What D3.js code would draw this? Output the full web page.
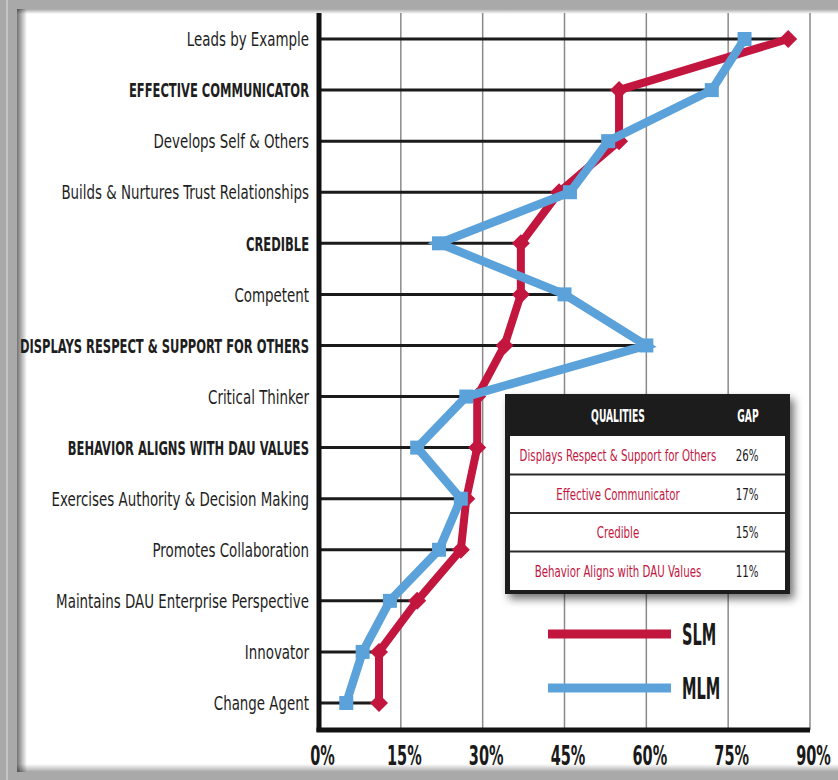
<!DOCTYPE html>
<html>
<head>
<meta charset="utf-8">
<script src="https://cdn.jsdelivr.net/npm/d3@7"></script>
<style>
  body { margin: 0; background: #a9a9a9; }
  svg { display: block; }
</style>
</head>
<body>
<svg id="chart" width="838" height="780"></svg>
<script>
// ---------- data ----------
const categories = [
  "Leads by Example",
  "EFFECTIVE COMMUNICATOR",
  "Develops Self & Others",
  "Builds & Nurtures Trust Relationships",
  "CREDIBLE",
  "Competent",
  "DISPLAYS RESPECT & SUPPORT FOR OTHERS",
  "Critical Thinker",
  "BEHAVIOR ALIGNS WITH DAU VALUES",
  "Exercises Authority & Decision Making",
  "Promotes Collaboration",
  "Maintains DAU Enterprise Perspective",
  "Innovator",
  "Change Agent"
];
const slm = [86, 55, 55, 44, 37, 37, 34, 29, 29, 27, 26, 18, 11, 11];
const mlm = [78, 72, 53, 46, 22, 45, 60, 27, 18, 26, 22, 13, 8, 5];
const xTicks = [0, 15, 30, 45, 60, 75, 90];

const tableQualities = [
  "Displays Respect & Support for Others",
  "Effective Communicator",
  "Credible",
  "Behavior Aligns with DAU Values"
];
const tableGaps = ["26%", "17%", "15%", "11%"];
const seriesNames = ["SLM", "MLM"];

// ---------- look ----------
const RED = "#c2163f", BLUE = "#5ca2da";
const FONT = "'Liberation Sans Narrow', 'DejaVu Sans Condensed', 'Liberation Sans', Arial, sans-serif";

const svg = d3.select("#chart");

// frame / panel
const defs = svg.append("defs");
const lg = defs.append("linearGradient").attr("id", "leftShade");
lg.append("stop").attr("offset", "0%").attr("stop-color", "#000").attr("stop-opacity", 0.55);
lg.append("stop").attr("offset", "100%").attr("stop-color", "#000").attr("stop-opacity", 0);
const tg = defs.append("linearGradient").attr("id", "topShade").attr("x1", 0).attr("y1", 0).attr("x2", 0).attr("y2", 1);
tg.append("stop").attr("offset", "0%").attr("stop-color", "#000").attr("stop-opacity", 0.35);
tg.append("stop").attr("offset", "100%").attr("stop-color", "#000").attr("stop-opacity", 0);
const bg = defs.append("linearGradient").attr("id", "botShade").attr("x1", 0).attr("y1", 1).attr("x2", 0).attr("y2", 0);
bg.append("stop").attr("offset", "0%").attr("stop-color", "#000").attr("stop-opacity", 0.35);
bg.append("stop").attr("offset", "100%").attr("stop-color", "#000").attr("stop-opacity", 0);
const sh = defs.append("filter").attr("id", "tblShadow").attr("x", "-10%").attr("y", "-10%").attr("width", "130%").attr("height", "130%");
sh.append("feDropShadow").attr("dx", 4).attr("dy", 5).attr("stdDeviation", 4).attr("flood-opacity", 0.55);

svg.append("rect").attr("width", 838).attr("height", 780).attr("fill", "#a9a9a9");
svg.append("rect").attr("x", 6).attr("y", 0).attr("width", 2).attr("height", 780).attr("fill", "#c4c4c4");
svg.append("rect").attr("x", 17).attr("y", 9).attr("width", 830).attr("height", 763).attr("fill", "#fff");
svg.append("rect").attr("x", 17).attr("y", 9).attr("width", 10).attr("height", 763).attr("fill", "url(#leftShade)");
svg.append("rect").attr("x", 17).attr("y", 9).attr("width", 830).attr("height", 5).attr("fill", "url(#topShade)");
svg.append("rect").attr("x", 17).attr("y", 764).attr("width", 830).attr("height", 8).attr("fill", "url(#botShade)");

// ---------- scales ----------
const x = d3.scaleLinear().domain([0, 90]).range([319, 810]);
const y = d3.scalePoint().domain(categories).range([39, 703]);
const plotTop = 13, plotBottom = 730;

// vertical grid lines
svg.append("g").selectAll("line")
  .data(xTicks.slice(1))
  .join("line")
  .attr("x1", d => x(d)).attr("x2", d => x(d))
  .attr("y1", plotTop).attr("y2", plotBottom)
  .attr("stroke", "#8a8a8a").attr("stroke-width", 1.5);

// row lines, from the axis out to the larger of the two values
svg.append("g").selectAll("line")
  .data(categories)
  .join("line")
  .attr("x1", x(0))
  .attr("x2", (d, i) => x(Math.max(slm[i], mlm[i])))
  .attr("y1", d => y(d)).attr("y2", d => y(d))
  .attr("stroke", "#1b1b1b").attr("stroke-width", 3);

// axes lines
svg.append("line").attr("x1", x(0)).attr("x2", x(0)).attr("y1", plotTop).attr("y2", plotBottom + 2)
  .attr("stroke", "#111").attr("stroke-width", 5);
svg.append("line").attr("x1", x(0) - 2.5).attr("x2", x(90)).attr("y1", plotBottom).attr("y2", plotBottom)
  .attr("stroke", "#111").attr("stroke-width", 5);

// x tick labels via d3 axis
const xAxis = d3.axisBottom(x).tickValues(xTicks).tickSize(0).tickPadding(0).tickFormat(d => d + "%");
const gx = svg.append("g").attr("transform", `translate(0,${plotBottom})`).call(xAxis);
gx.select(".domain").remove();
gx.selectAll(".tick text").remove();
gx.selectAll(".tick").append("g")
  .attr("transform", "translate(3,35) scale(0.62,1)")
  .append("text")
  .attr("text-anchor", "middle")
  .attr("font-family", FONT).attr("font-weight", 700).attr("font-size", 26)
  .attr("fill", "#1a1a1a")
  .text(d => d + "%");

// y category labels
const boldRows = new Set([1, 4, 6, 8]);
svg.append("g").selectAll("g")
  .data(categories)
  .join("g")
  .attr("transform", (d, i) => `translate(309,${y(d)}) scale(${boldRows.has(i) ? 0.64 : 0.745},1)`)
  .append("text")
  .attr("text-anchor", "end")
  .attr("dy", "0.36em")
  .attr("font-family", FONT)
  .attr("font-size", 20)
  .attr("font-weight", (d, i) => boldRows.has(i) ? 700 : 400)
  .attr("fill", "#1e1e1e")
  .text(d => d);

// ---------- series ----------
const line = d3.line().x(d => x(d.v)).y(d => y(d.c));
const slmPts = categories.map((c, i) => ({ c, v: slm[i] }));
const mlmPts = categories.map((c, i) => ({ c, v: mlm[i] }));

svg.append("path").datum(slmPts).attr("d", line)
  .attr("fill", "none").attr("stroke", RED).attr("stroke-width", 8).attr("stroke-linejoin", "miter");
svg.append("g").selectAll("path")
  .data(slmPts)
  .join("path")
  .attr("transform", d => `translate(${x(d.v)},${y(d.c)})`)
  .attr("d", "M0,-9L9,0L0,9L-9,0Z")
  .attr("fill", RED);

svg.append("path").datum(mlmPts).attr("d", line)
  .attr("fill", "none").attr("stroke", BLUE).attr("stroke-width", 8.5).attr("stroke-linejoin", "miter");
svg.append("g").selectAll("rect")
  .data(mlmPts)
  .join("rect")
  .attr("x", d => x(d.v) - 7).attr("y", d => y(d.c) - 7)
  .attr("width", 14).attr("height", 14)
  .attr("fill", BLUE);

// ---------- table ----------
const tbl = svg.append("g");
const tX = 505, tY = 394, tW = 285, tH = 200;
tbl.append("rect").attr("x", tX).attr("y", tY).attr("width", tW).attr("height", tH)
  .attr("fill", "#1c1a1b").attr("filter", "url(#tblShadow)");
const rowTop = 436, rowH = 38.5;
tbl.append("rect").attr("x", tX + 5).attr("y", rowTop).attr("width", tW - 10).attr("height", rowH * 4)
  .attr("fill", "#fff");
tbl.selectAll("line.sep")
  .data(tableQualities.slice(1))
  .join("line")
  .attr("class", "sep")
  .attr("x1", tX + 5).attr("x2", tX + tW - 5)
  .attr("y1", (d, i) => rowTop + rowH * (i + 1)).attr("y2", (d, i) => rowTop + rowH * (i + 1))
  .attr("stroke", "#2a2a2a").attr("stroke-width", 2);

function condensed(g, px, py, sx, txt, size, weight, fill) {
  g.append("g").attr("transform", `translate(${px},${py}) scale(${sx},1)`)
    .append("text").attr("text-anchor", "middle").attr("dy", "0.36em")
    .attr("font-family", FONT).attr("font-size", size).attr("font-weight", weight)
    .attr("fill", fill).text(txt);
}
condensed(tbl, 618, 416, 0.6, "QUALITIES", 17, 700, "#fff");
condensed(tbl, 748, 416, 0.6, "GAP", 17, 700, "#fff");
tableQualities.forEach((q, i) => {
  const cy = rowTop + rowH * i + rowH / 2;
  condensed(tbl, 618, cy, 0.69, q, 16.5, 400, RED);
  condensed(tbl, 747, cy, 0.69, tableGaps[i], 16.5, 400, "#1a1a1a");
});

// ---------- legend ----------
const leg = svg.append("g");
seriesNames.forEach((s, i) => {
  const ly = 634 + i * 54;
  leg.append("line").attr("x1", 548).attr("x2", 671).attr("y1", ly).attr("y2", ly)
    .attr("stroke", i === 0 ? RED : BLUE).attr("stroke-width", 9);
  leg.append("g").attr("transform", `translate(682,${ly}) scale(0.54,1)`)
    .append("text").attr("dy", "0.36em")
    .attr("font-family", FONT).attr("font-size", 30).attr("font-weight", 700)
    .attr("fill", "#1a1a1a").text(s);
});
</script>
</body>
</html>
